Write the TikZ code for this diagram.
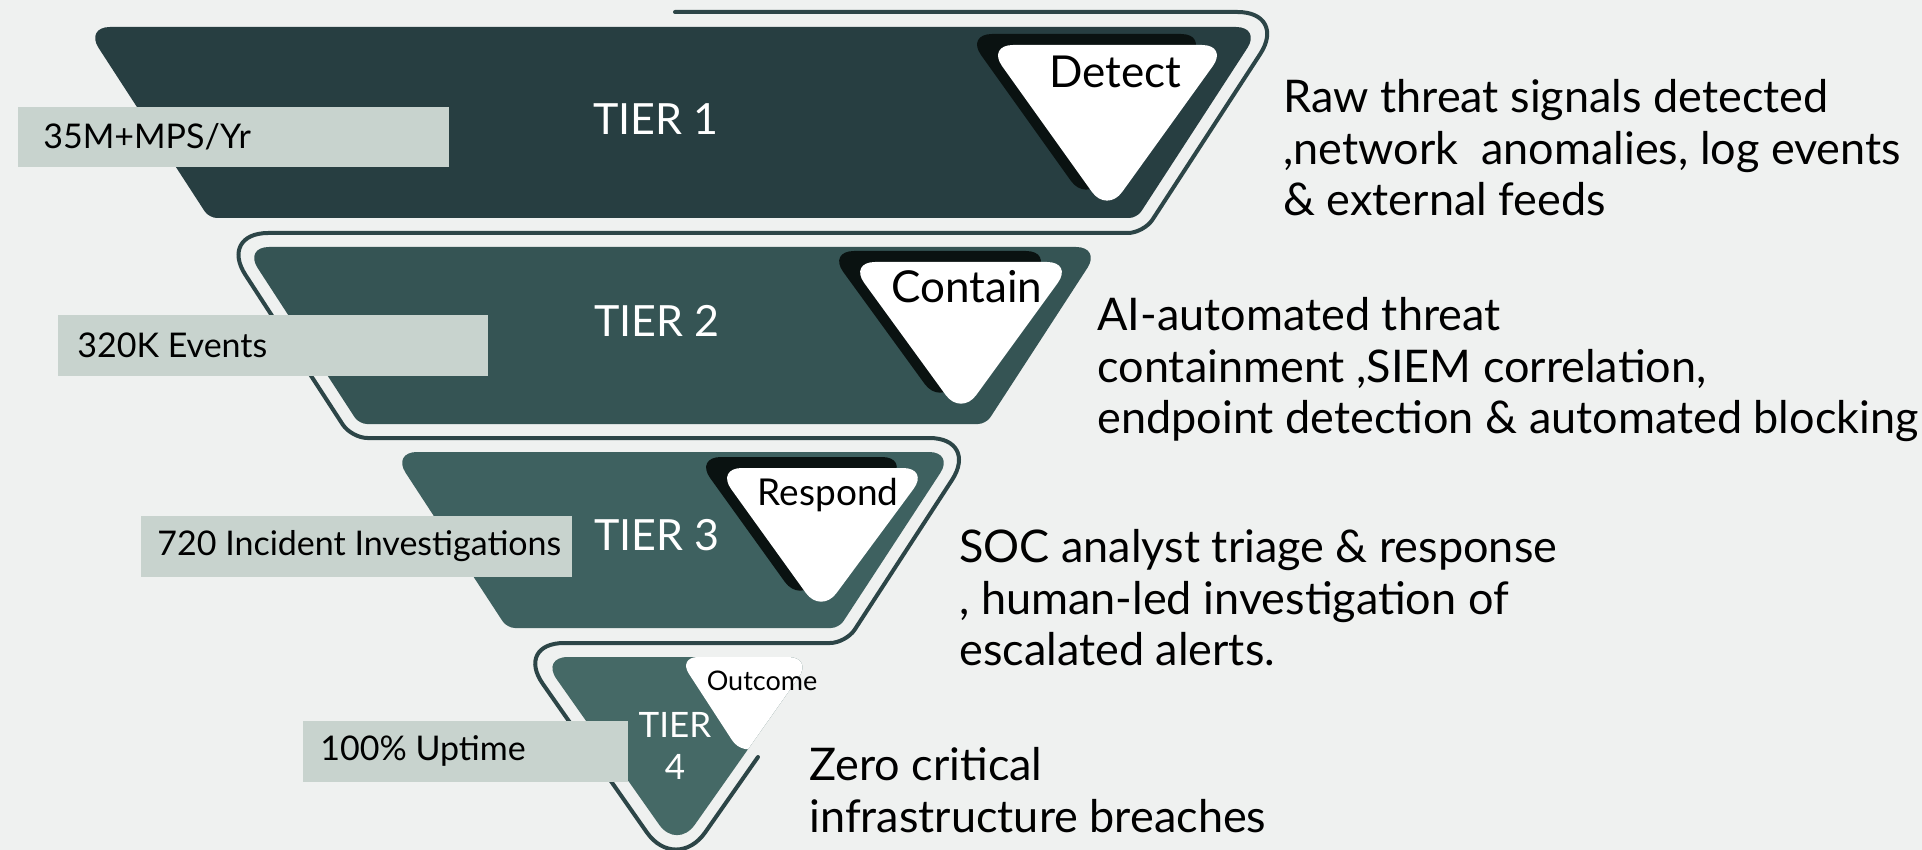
\documentclass[tikz,border=0pt]{standalone}
\usepackage{fontspec}
\setmainfont{Lato}
\definecolor{bgc}{HTML}{EFF1F0}
\definecolor{edgec}{HTML}{2C4547}
\definecolor{tieronec}{HTML}{273E41}
\definecolor{tiertwoc}{HTML}{355454}
\definecolor{tierthreec}{HTML}{3E6160}
\definecolor{tierfourc}{HTML}{456966}
\definecolor{shadec}{HTML}{0A1211}
\definecolor{statc}{HTML}{C8D3CE}
\begin{document}
\begin{tikzpicture}[x=0.5pt,y=-0.5pt,
  tierlbl/.style={text=white,inner sep=0pt,font=\fontsize{21.5}{24}\selectfont},
  stagelbl/.style={text=black,inner sep=0pt},
  stagedrop/.style={fill=shadec,rounded corners=13pt,shift={(-21,-11)}},
  stagetri/.style={fill=white,rounded corners=13pt},
  stattxt/.style={anchor=west,inner sep=0pt,font=\fontsize{17}{20}\selectfont},
  desc/.style={anchor=west,align=left,inner sep=0pt,font=\fontsize{22.5}{25.75}\selectfont}]
\useasboundingbox (0,0) rectangle (1922,850);
\fill[bgc] (0,0) rectangle (1922,850);
\draw[edgec, line width=2pt, line cap=round] (675,12) [rounded corners=25pt] -- (1287.5,12) [rounded corners=8pt] -- (1143.8,233) [rounded corners=25pt] -- (218.2,233) [rounded corners=8pt] -- (351.5,438) [rounded corners=25pt] -- (979.3,438) [rounded corners=8pt] -- (846,643) [rounded corners=25pt] -- (514.2,643) [rounded corners=25.5pt] -- (676,874) -- (758,757);
\fill[tieronec] (673,27) [rounded corners=12.5pt] -- (1261,27) [rounded corners=4pt] -- (1137,218) -- (209,218) [rounded corners=12.5pt] -- (85,27) -- cycle;
\fill[tiertwoc] (672,247) [rounded corners=12.5pt] -- (1101,247) [rounded corners=4pt] -- (986,424) -- (359,424) [rounded corners=12.5pt] -- (244,247) -- cycle;
\fill[tierthreec] (673,452) [rounded corners=12.5pt] -- (954,452) [rounded corners=4pt] -- (839,628) -- (507,628) [rounded corners=12.5pt] -- (392,452) -- cycle;
\fill[tierfourc] (677,657) [rounded corners=12.5pt] -- (813,657) [rounded corners=15.5pt] -- (677,850) [rounded corners=13.5pt] -- (541,657) -- cycle;
\begin{scope}
\clip (677,657) [rounded corners=12.5pt] -- (813,657) [rounded corners=15.5pt] -- (677,850) [rounded corners=13.5pt] -- (541,657) -- cycle;
\fill[white, rounded corners=10pt] (678,657) -- (900,657) -- (743,757) -- cycle;
\end{scope}
\fill[stagedrop] (987,45) -- (1228,45) -- (1107,213) -- cycle;
\fill[stagetri] (987,45) -- (1228,45) -- (1107,213) -- cycle;
\fill[stagedrop] (849,262) -- (1073,262) -- (961,416) -- cycle;
\fill[stagetri] (849,262) -- (1073,262) -- (961,416) -- cycle;
\fill[stagedrop] (716,468) -- (929,468) -- (821,614) -- cycle;
\fill[stagetri] (716,468) -- (929,468) -- (821,614) -- cycle;
\fill[statc] (18,107) rectangle (449,167);
\fill[statc] (58,315) rectangle (488,376);
\fill[statc] (141,516) rectangle (572,577);
\fill[statc] (303,721) rectangle (628,782);
\node[tierlbl] (tone) at (656,119) {TIER 1};
\node[tierlbl] (ttwo) at (657,321) {TIER 2};
\node[tierlbl] (tthree) at (657,535) {TIER 3};
\node[tierlbl, align=center, font=\fontsize{17.5}{21}\selectfont] (tfour) at (675,746) {TIER\\4};
\node[stagelbl, font=\fontsize{22}{24}\selectfont] (detect) at (1115,72) {Detect};
\node[stagelbl, font=\fontsize{22}{24}\selectfont] (contain) at (967,287) {Contain};
\node[stagelbl, font=\fontsize{18.5}{21}\selectfont] (respond) at (828,495) {Respond};
\node[stagelbl, font=\fontsize{13.5}{16}\selectfont] (outcome) at (762,681) {Outcome};
\node[stattxt] (sone) at (43,137) {35M+MPS/Yr};
\node[stattxt] (stwo) at (77,345) {320K Events};
\node[stattxt] (sthree) at (157,546) {720 Incident Investigations};
\node[stattxt] (sfour) at (320,751) {100\% Uptime};
\node[desc] (done) at (1283,148) {Raw threat signals detected\\,network\ \ anomalies, log events\\\& external feeds};
\node[desc] (dtwo) at (1097,370) {AI-automated threat\\containment ,SIEM correlation,\\endpoint detection \& automated blocking};
\node[desc] (dthree) at (959,598) {SOC analyst triage \& response\\, human-led investigation of\\escalated alerts.};
\node[desc] (dfour) at (809,790) {Zero critical\\infrastructure breaches};
\end{tikzpicture}
\end{document}
